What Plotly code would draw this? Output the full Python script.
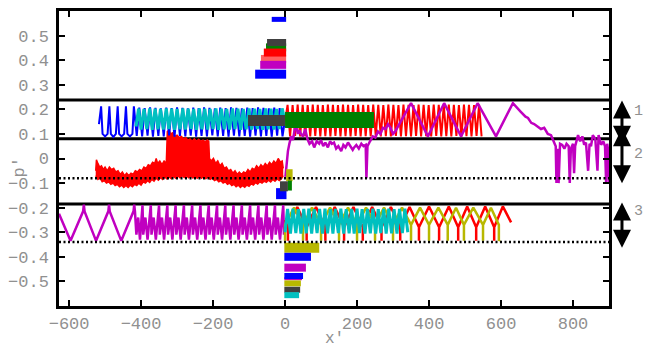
import plotly.graph_objects as go

# ---------------- axes ----------------
x_range = [-628, 900]
y_range = [-0.6, 0.6]
x_tick_vals = [-600, -400, -200, 0, 200, 400, 600, 800]
x_tick_text = ["−600", "−400", "−200", "0", "200", "400", "600", "800"]
y_tick_vals = [-0.5, -0.4, -0.3, -0.2, -0.1, 0, 0.1, 0.2, 0.3, 0.4, 0.5]
y_tick_text = ["−0.5", "−0.4", "−0.3", "−0.2", "−0.1", "0", "0.1", "0.2", "0.3", "0.4", "0.5"]

# ---------------- bands ----------------
band_edges = [0.238, 0.08, -0.185]
reference_levels = [-0.08, -0.34]
band_labels = ["1", "2", "3"]
band_arrow_top = [0.242, 0.129, -0.173]
band_arrow_bottom = [0.060, -0.101, -0.363]
band_label_y = [0.19, 0.016, -0.214]

# ---------------- short thick bars ----------------
top_bar_colors = ["#ff6060", "#008000", "#ff0000", "#c000c0", "#0000ff", "#404040", "#0000ff"]
top_bar_y = [0.405, 0.452, 0.431, 0.381, 0.343, 0.472, 0.566]
top_bar_start = [-67, -53, -59, -69, -83, -50, -37]
top_bar_end = [3, 3, 3, 3, 3, 3, 3]
top_bar_width = [8, 8, 8, 8, 9, 7, 5]

bottom_bar_colors = ["#b8b800", "#0000ff", "#c000c0", "#c000c0", "#0000ff", "#b8b800", "#404040", "#00c0c0"]
bottom_bar_y = [-0.363, -0.400, -0.444, -0.489, -0.478, -0.508, -0.534, -0.556]
bottom_bar_start = [-2, -2, -2, -2, -2, -2, -2, -2]
bottom_bar_end = [95, 72, 58, 47, 50, 44, 42, 39]
bottom_bar_width = [10, 8, 8, 3, 6, 6, 6, 6]

mid_bar_colors = ["#b8b800", "#0000ff", "#404040", "#008000", "#404040", "#008000"]
mid_bar_y = [-0.068, -0.143, -0.113, -0.11, 0.155, 0.157]
mid_bar_start = [3, -25, -14, 8, -103, 0]
mid_bar_end = [21, 4, 8, 19, 0, 247]
mid_bar_width = [12, 11, 10, 10, 11, 16]

# ---------------- band 1 oscillations ----------------
blue_band1 = [
    (-517, 0.14), (-511, 0.212), (-507, 0.10), (-500, 0.09), (-493, 0.10), (-488, 0.212),
    (-484, 0.10), (-477, 0.088), (-470, 0.10), (-465, 0.212), (-461, 0.10), (-454, 0.09),
    (-447, 0.10), (-442, 0.212), (-438, 0.10), (-431, 0.09), (-424, 0.10), (-420, 0.212),
    (-412, 0.092), (-405, 0.207), (-397, 0.090), (-390, 0.205), (-382, 0.093), (-375, 0.208),
    (-367, 0.089), (-360, 0.206), (-352, 0.092), (-345, 0.204), (-337, 0.090), (-330, 0.207),
    (-322, 0.094), (-315, 0.205), (-307, 0.089), (-300, 0.208), (-292, 0.092), (-285, 0.206),
    (-277, 0.090), (-270, 0.204), (-262, 0.093), (-255, 0.207), (-247, 0.089), (-240, 0.205),
    (-232, 0.092), (-225, 0.208), (-217, 0.090), (-210, 0.206), (-202, 0.094), (-195, 0.204),
    (-187, 0.090), (-180, 0.207), (-172, 0.092), (-165, 0.205), (-157, 0.089), (-150, 0.208),
    (-142, 0.093), (-135, 0.206), (-127, 0.090), (-120, 0.204), (-112, 0.092), (-105, 0.207),
    (-97, 0.089), (-90, 0.205), (-82, 0.093), (-75, 0.208), (-67, 0.090), (-60, 0.206),
    (-52, 0.092), (-45, 0.204), (-37, 0.089), (-30, 0.207), (-22, 0.093), (-15, 0.205),
    (-7, 0.090), (0, 0.16),
]

cyan_band1 = [
    (-414, 0.13), (-407, 0.203), (-400, 0.118), (-392, 0.202), (-384, 0.120), (-376, 0.204),
    (-369, 0.117), (-361, 0.203), (-353, 0.119), (-346, 0.202), (-338, 0.118), (-330, 0.204),
    (-323, 0.120), (-315, 0.203), (-307, 0.117), (-300, 0.202), (-292, 0.119), (-284, 0.204),
    (-277, 0.118), (-269, 0.203), (-261, 0.120), (-254, 0.202), (-246, 0.117), (-238, 0.204),
    (-231, 0.119), (-223, 0.203), (-215, 0.118), (-208, 0.202), (-200, 0.120), (-192, 0.204),
    (-185, 0.117), (-177, 0.203), (-169, 0.119), (-162, 0.202), (-154, 0.118), (-146, 0.204),
    (-139, 0.120), (-131, 0.203), (-123, 0.117), (-116, 0.202), (-108, 0.119), (-100, 0.204),
    (-93, 0.118), (-85, 0.203), (-77, 0.120), (-70, 0.202), (-62, 0.117), (-54, 0.204),
    (-47, 0.119), (-39, 0.203), (-31, 0.118), (-24, 0.202), (-16, 0.120), (-8, 0.204), (0, 0.15),
]

red_band1 = [
    (0, 0.15), (7, 0.218), (14, 0.09), (21, 0.217), (28, 0.092), (35, 0.219), (42, 0.09),
    (49, 0.218), (56, 0.091), (63, 0.217), (70, 0.09), (77, 0.219), (84, 0.092), (91, 0.218),
    (98, 0.09), (105, 0.217), (112, 0.091), (119, 0.219), (126, 0.09), (133, 0.218),
    (140, 0.092), (147, 0.217), (154, 0.09), (161, 0.219), (168, 0.091), (175, 0.218),
    (182, 0.09), (189, 0.217), (196, 0.092), (203, 0.219), (210, 0.09), (217, 0.218),
    (224, 0.091), (231, 0.217), (238, 0.09), (245, 0.219), (252, 0.092), (259, 0.218),
    (266, 0.09), (273, 0.217), (280, 0.091), (287, 0.219), (294, 0.09), (301, 0.218),
    (308, 0.092), (315, 0.217), (322, 0.09), (329, 0.219), (336, 0.091), (343, 0.218),
    (350, 0.09), (357, 0.217), (364, 0.092), (371, 0.219), (378, 0.09), (385, 0.218),
    (392, 0.091), (399, 0.217), (406, 0.09), (413, 0.219), (420, 0.092), (427, 0.218),
    (434, 0.09), (441, 0.217), (448, 0.091), (455, 0.219), (462, 0.09), (469, 0.218),
    (476, 0.092), (483, 0.217), (490, 0.09), (497, 0.219), (504, 0.091), (511, 0.218),
    (518, 0.09), (525, 0.217), (532, 0.092), (539, 0.219), (546, 0.09),
]

magenta_band12 = [
    (1, -0.075), (4, -0.02), (8, 0.03), (12, 0.06), (17, 0.09), (22, 0.075), (27, 0.12),
    (31, 0.13), (36, 0.10), (40, 0.115), (44, 0.10), (50, 0.09), (56, 0.12), (62, 0.08),
    (68, 0.06), (75, 0.07), (81, 0.045), (88, 0.07), (95, 0.06), (100, 0.075), (106, 0.05),
    (112, 0.065), (119, 0.045), (125, 0.07), (130, 0.06), (136, 0.065), (142, 0.04),
    (148, 0.05), (156, 0.03), (162, 0.055), (168, 0.045), (175, 0.065), (182, 0.05),
    (188, 0.035), (192, 0.045), (198, 0.055), (205, 0.04), (212, 0.06), (218, 0.05),
    (224, 0.055), (226, -0.08), (229, 0.05), (236, 0.07), (244, 0.09), (251, 0.085),
    (258, 0.11), (265, 0.10), (272, 0.125), (279, 0.12), (286, 0.14), (293, 0.125),
    (300, 0.10), (306, 0.11), (350, 0.225), (397, 0.09), (442, 0.225), (489, 0.09),
    (535, 0.225), (586, 0.09), (633, 0.225), (655, 0.19), (668, 0.17), (675, 0.165),
    (684, 0.145), (692, 0.14), (700, 0.13), (711, 0.12), (720, 0.125), (730, 0.10),
    (739, 0.095), (747, 0.07), (752, 0.05), (754, -0.1), (757, 0.04), (760, -0.1),
    (764, 0.06), (770, 0.055), (776, 0.04), (782, 0.06), (788, 0.05), (791, -0.1),
    (794, 0.04), (800, 0.06), (803, -0.06), (806, 0.05), (814, 0.095), (820, 0.07),
    (826, 0.09), (831, 0.056), (836, 0.065), (842, -0.05), (846, 0.06), (850, 0.05),
    (855, 0.095), (862, 0.08), (868, -0.05), (871, 0.095), (878, 0.056), (884, 0.07),
    (889, 0.05), (892, -0.1), (895, 0.06), (898, 0.03), (900, -0.1),
]

# ---------------- band 2 noisy red envelope ----------------
red_band2_upper = [
    (-526, -0.05), (-524, -0.005), (-520, -0.02), (-515, -0.035), (-510, -0.03), (-505, -0.045),
    (-500, -0.035), (-494, -0.05), (-488, -0.035), (-482, -0.045), (-476, -0.04), (-470, -0.055),
    (-464, -0.05), (-458, -0.065), (-452, -0.055), (-446, -0.07), (-440, -0.06), (-434, -0.07),
    (-428, -0.06), (-422, -0.065), (-416, -0.05), (-410, -0.055), (-404, -0.045), (-398, -0.05),
    (-392, -0.035), (-386, -0.04), (-380, -0.025), (-374, -0.03), (-368, -0.015), (-362, -0.02),
    (-358, 0.0), (-354, -0.02), (-348, -0.01), (-342, -0.025), (-336, -0.01), (-330, -0.02),
    (-327, 0.11), (-322, 0.117), (-318, 0.10), (-312, 0.105), (-306, 0.09), (-300, 0.095),
    (-294, 0.085), (-288, 0.09), (-282, 0.08), (-276, 0.085), (-270, 0.075), (-264, 0.08),
    (-258, 0.07), (-252, 0.08), (-246, 0.07), (-240, 0.078), (-234, 0.07), (-228, 0.075),
    (-222, 0.068), (-216, 0.075), (-212, 0.07), (-210, 0.0), (-205, -0.01), (-199, 0.0),
    (-193, -0.02), (-187, -0.01), (-181, -0.03), (-175, -0.02), (-169, -0.04), (-163, -0.035),
    (-157, -0.05), (-151, -0.045), (-145, -0.06), (-139, -0.05), (-133, -0.065), (-127, -0.055),
    (-121, -0.065), (-115, -0.055), (-109, -0.06), (-103, -0.045), (-97, -0.055), (-91, -0.04),
    (-85, -0.045), (-79, -0.03), (-73, -0.04), (-67, -0.025), (-61, -0.035), (-55, -0.02),
    (-49, -0.03), (-43, -0.015), (-37, -0.025), (-31, -0.01), (-25, -0.02), (-19, 0.0),
    (-13, -0.015), (-8, -0.01), (-5, -0.04),
]
red_band2_lower = [
    (-526, -0.07), (-520, -0.085), (-514, -0.08), (-508, -0.095), (-502, -0.09), (-496, -0.1),
    (-490, -0.095), (-484, -0.105), (-478, -0.1), (-472, -0.11), (-466, -0.105), (-460, -0.115),
    (-454, -0.108), (-448, -0.118), (-442, -0.11), (-436, -0.118), (-430, -0.108), (-424, -0.115),
    (-418, -0.105), (-412, -0.11), (-406, -0.1), (-400, -0.108), (-394, -0.095), (-388, -0.1),
    (-382, -0.09), (-376, -0.097), (-370, -0.085), (-364, -0.092), (-358, -0.08), (-352, -0.088),
    (-346, -0.078), (-340, -0.085), (-334, -0.075), (-328, -0.083), (-322, -0.075), (-316, -0.082),
    (-310, -0.072), (-304, -0.08), (-298, -0.07), (-292, -0.078), (-286, -0.07), (-280, -0.077),
    (-274, -0.07), (-268, -0.078), (-262, -0.07), (-256, -0.079), (-250, -0.072), (-244, -0.08),
    (-238, -0.073), (-232, -0.08), (-226, -0.072), (-220, -0.082), (-214, -0.075), (-208, -0.085),
    (-202, -0.08), (-196, -0.09), (-190, -0.085), (-184, -0.095), (-178, -0.09), (-172, -0.1),
    (-166, -0.095), (-160, -0.105), (-154, -0.1), (-148, -0.11), (-142, -0.105), (-136, -0.115),
    (-130, -0.108), (-124, -0.118), (-118, -0.11), (-112, -0.117), (-106, -0.108), (-100, -0.113),
    (-94, -0.103), (-88, -0.108), (-82, -0.098), (-76, -0.104), (-70, -0.095), (-64, -0.1),
    (-58, -0.092), (-52, -0.097), (-46, -0.088), (-40, -0.095), (-34, -0.085), (-28, -0.092),
    (-22, -0.083), (-16, -0.09), (-10, -0.082), (-5, -0.07),
]

# ---------------- band 3 oscillations ----------------
magenta_band3 = [
    (-628, -0.225), (-596, -0.335), (-561, -0.215), (-559, -0.188), (-557, -0.215),
    (-525, -0.335), (-491, -0.215), (-489, -0.188), (-487, -0.215), (-455, -0.335),
    (-421, -0.215), (-419, -0.188), (-417, -0.215), (-413, -0.31), (-408, -0.24), (-403, -0.33),
    (-396, -0.19), (-394, -0.31), (-388, -0.24), (-382, -0.33), (-373, -0.19), (-371, -0.31),
    (-365, -0.24), (-359, -0.33), (-350, -0.19), (-348, -0.31), (-342, -0.24), (-336, -0.33),
    (-327, -0.19), (-325, -0.31), (-319, -0.24), (-313, -0.33), (-304, -0.19), (-302, -0.31),
    (-296, -0.24), (-290, -0.33), (-281, -0.19), (-279, -0.31), (-273, -0.24), (-267, -0.33),
    (-258, -0.19), (-256, -0.31), (-250, -0.24), (-244, -0.33), (-235, -0.19), (-233, -0.31),
    (-227, -0.24), (-221, -0.33), (-212, -0.19), (-210, -0.31), (-204, -0.24), (-198, -0.33),
    (-189, -0.19), (-187, -0.31), (-181, -0.24), (-175, -0.33), (-166, -0.19), (-164, -0.31),
    (-158, -0.24), (-152, -0.33), (-143, -0.19), (-141, -0.31), (-135, -0.24), (-129, -0.33),
    (-120, -0.19), (-118, -0.31), (-112, -0.24), (-106, -0.33), (-97, -0.19), (-95, -0.31),
    (-89, -0.24), (-83, -0.33), (-74, -0.19), (-72, -0.31), (-66, -0.24), (-60, -0.33),
    (-51, -0.19), (-49, -0.31), (-43, -0.24), (-37, -0.33), (-28, -0.19), (-26, -0.31),
    (-20, -0.24), (-14, -0.33), (-5, -0.19), (-3, -0.31), (0, -0.27),
]

red_band3 = [
    (0, -0.25), (8, -0.28), (8, -0.335), (8, -0.28), (34, -0.197), (60, -0.28), (60, -0.335),
    (60, -0.28), (86, -0.197), (112, -0.28), (112, -0.335), (112, -0.28), (138, -0.197),
    (164, -0.28), (164, -0.335), (164, -0.28), (190, -0.197), (216, -0.28), (216, -0.335),
    (216, -0.28), (242, -0.197), (268, -0.28), (268, -0.335), (268, -0.28), (294, -0.197),
    (320, -0.28), (320, -0.335), (320, -0.28), (346, -0.197), (372, -0.28), (372, -0.335),
    (372, -0.28), (400, -0.195), (428, -0.28), (428, -0.335), (428, -0.28), (455, -0.195),
    (481, -0.28), (481, -0.335), (481, -0.28), (506, -0.195), (531, -0.28), (531, -0.335),
    (531, -0.28), (556, -0.195), (581, -0.28), (581, -0.335), (581, -0.28), (605, -0.195),
    (628, -0.26),
]

olive_band3 = [
    (0, -0.335), (0, -0.27), (25, -0.2), (50, -0.27), (50, -0.335), (50, -0.27), (75, -0.2),
    (100, -0.27), (100, -0.335), (100, -0.27), (125, -0.2), (150, -0.27), (150, -0.335),
    (150, -0.27), (175, -0.2), (200, -0.27), (200, -0.335), (200, -0.27), (225, -0.2),
    (250, -0.27), (250, -0.335), (250, -0.27), (275, -0.2), (300, -0.27), (300, -0.335),
    (300, -0.27), (325, -0.2), (350, -0.27), (350, -0.335), (350, -0.27), (375, -0.2),
    (400, -0.27), (400, -0.335), (400, -0.27), (426, -0.2), (452, -0.27), (452, -0.335),
    (452, -0.27), (475, -0.2), (497, -0.27), (497, -0.335), (497, -0.27), (523, -0.2),
    (550, -0.27), (550, -0.335), (550, -0.27), (572, -0.2), (594, -0.27), (594, -0.335),
    (596, -0.33),
]

cyan_band3 = [
    (0, -0.30), (7, -0.205), (15, -0.305), (22, -0.204), (30, -0.303), (37, -0.206),
    (44, -0.305), (52, -0.205), (59, -0.304), (66, -0.204), (74, -0.305), (81, -0.206),
    (89, -0.303), (96, -0.205), (104, -0.305), (111, -0.204), (118, -0.304), (126, -0.206),
    (133, -0.305), (140, -0.205), (148, -0.303), (155, -0.204), (163, -0.305), (170, -0.206),
    (178, -0.304), (185, -0.205), (192, -0.305), (200, -0.204), (207, -0.303), (214, -0.206),
    (222, -0.305), (229, -0.205), (237, -0.304), (244, -0.204), (252, -0.305), (259, -0.206),
    (266, -0.303), (274, -0.205), (281, -0.305), (288, -0.204), (296, -0.304), (303, -0.206),
    (311, -0.305), (318, -0.205), (326, -0.303), (333, -0.204), (341, -0.30),
]

BLUE, CYAN, RED, GREEN = "#0000ff", "#00c0c0", "#ff0000", "#008000"
GRAY, MAGENTA, OLIVE = "#404040", "#c000c0", "#b8b800"
LABEL_GRAY = "#909090"
MONO = "Liberation Mono"

fig = go.Figure()


def add_series(pairs, color, width):
    xs = [p[0] for p in pairs]
    ys = [p[1] for p in pairs]
    fig.add_trace(go.Scatter(x=xs, y=ys, mode="lines",
                             line=dict(color=color, width=width),
                             hoverinfo="skip", showlegend=False))


def add_bars(colors, ys, starts, ends, widths):
    for c, y, s, e, w in zip(colors, ys, starts, ends, widths):
        fig.add_trace(go.Scatter(x=[s, e], y=[y, y], mode="lines",
                                 line=dict(color=c, width=w),
                                 hoverinfo="skip", showlegend=False))


# band 2 red noisy signal as envelope fill
fig.add_trace(go.Scatter(x=[p[0] for p in red_band2_lower], y=[p[1] for p in red_band2_lower],
                         mode="lines", line=dict(color=RED, width=1.5),
                         hoverinfo="skip", showlegend=False))
fig.add_trace(go.Scatter(x=[p[0] for p in red_band2_upper], y=[p[1] for p in red_band2_upper],
                         mode="lines", line=dict(color=RED, width=1.5), fill="tonexty",
                         fillcolor=RED, hoverinfo="skip", showlegend=False))

# band 1
add_series(blue_band1, BLUE, 2)
add_series(cyan_band1, CYAN, 3)
add_series(red_band1, RED, 2)
add_series(magenta_band12, MAGENTA, 2.5)

# band 3
add_series(magenta_band3, MAGENTA, 2.5)
add_series(red_band3, RED, 2.5)
add_series(olive_band3, OLIVE, 2.5)
add_series(cyan_band3, CYAN, 3)

# bars
add_bars(mid_bar_colors, mid_bar_y, mid_bar_start, mid_bar_end, mid_bar_width)
add_bars(top_bar_colors, top_bar_y, top_bar_start, top_bar_end, top_bar_width)
add_bars(bottom_bar_colors, bottom_bar_y, bottom_bar_start, bottom_bar_end, bottom_bar_width)

# separators (below data) and dotted reference levels (above data)
for y in band_edges:
    fig.add_shape(type="line", xref="paper", x0=0, x1=1, yref="y", y0=y, y1=y,
                  line=dict(color="black", width=3), layer="below")
for y in reference_levels:
    fig.add_shape(type="line", xref="paper", x0=0, x1=1, yref="y", y0=y, y1=y,
                  line=dict(color="black", width=2.5, dash="2px,2.5px"), layer="above")

# double arrows and labels to the right
for lab, yt, yb, yl in zip(band_labels, band_arrow_top, band_arrow_bottom, band_label_y):
    fig.add_annotation(x=1.0236, xref="paper", y=yb, yref="y", ax=0, axref="pixel",
                       ay=yt, ayref="y", text="", showarrow=True,
                       arrowhead=2, arrowsize=1.2, arrowwidth=3, arrowcolor="black",
                       arrowside="end+start", startarrowhead=2, startarrowsize=1.2)
    fig.add_annotation(x=1.053, xref="paper", y=yl, yref="y", text=lab, showarrow=False,
                       xanchor="center", yanchor="middle",
                       font=dict(family=MONO, size=15, color=LABEL_GRAY))

# axis titles
fig.add_annotation(x=-0.0726, xref="paper", y=-0.036, yref="y", text="p′", textangle=-90,
                   showarrow=False, xanchor="center", yanchor="middle",
                   font=dict(family=MONO, size=17, color=LABEL_GRAY))
fig.add_annotation(x=0.5, xref="paper", y=-0.112, yref="paper", text="x′",
                   showarrow=False, xanchor="center", yanchor="middle",
                   font=dict(family=MONO, size=16, color=LABEL_GRAY))

axis_common = dict(showgrid=False, zeroline=False, showline=True, linecolor="black",
                   linewidth=2.5, mirror="ticks", ticks="inside", ticklen=6, tickwidth=2,
                   tickcolor="black", tickfont=dict(family=MONO, size=17, color=LABEL_GRAY))

fig.update_layout(
    width=645, height=352,
    margin=dict(l=58, r=36, t=8, b=46),
    paper_bgcolor="white", plot_bgcolor="white",
    xaxis=dict(range=x_range, tickvals=x_tick_vals, ticktext=x_tick_text, **axis_common),
    yaxis=dict(range=y_range, tickvals=y_tick_vals, ticktext=y_tick_text,
               ticklabelstandoff=4, **axis_common),
    showlegend=False,
)

fig.write_html("out.html", config={"displayModeBar": False},
               post_script="document.body.style.margin='0';document.body.style.padding='0';")
